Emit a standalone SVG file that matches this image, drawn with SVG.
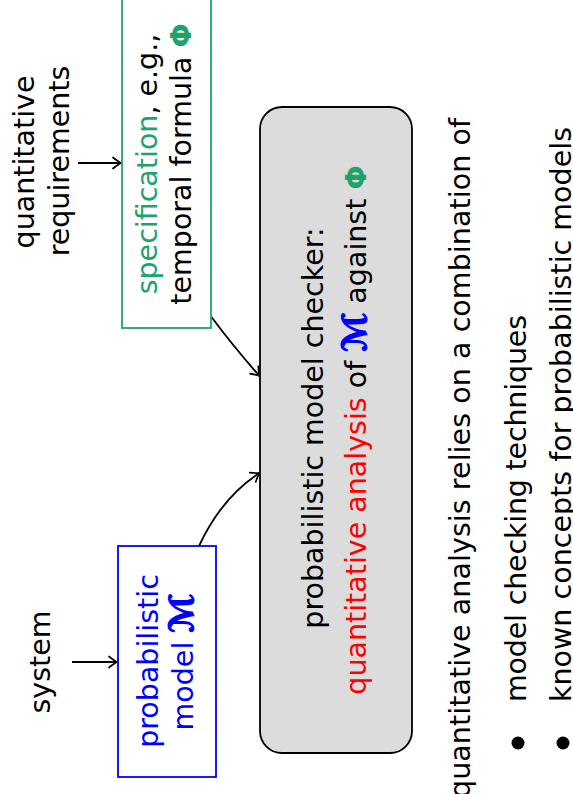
<svg xmlns="http://www.w3.org/2000/svg" width="573" height="794" viewBox="0 0 573 794">
<defs>
<style>
text { font-family: "DejaVu Sans", "Noto Sans", sans-serif; font-size: 28.5px; fill: #000; }
.green { fill: #1fa36b; }
.blue { fill: #0000ff; }
.red { fill: #ff0000; }
.phi { fill: #1fa36b; font-weight: bold; }
.calm { fill: #0000ff; stroke: #0000ff; stroke-width: 1.3; font-weight: bold; font-family: "DejaVu Sans", "Noto Sans", sans-serif; font-size: 33px; }
.conn { fill: none; stroke: #000; stroke-width: 1.8; }
</style>
<marker id="arr" viewBox="-10 -7 12 14" markerWidth="12" markerHeight="14" refX="0" refY="0" orient="auto" markerUnits="userSpaceOnUse">
<path d="M -8,-5.5 Q -2.5,-1.2 0,0 Q -2.5,1.2 -8,5.5" fill="none" stroke="#000" stroke-width="1.7" stroke-linecap="round"/>
</marker>
</defs>
<rect width="573" height="794" fill="#fff"/>

<g id="connectors">
<path class="conn" d="M 78,163 L 121,163" marker-end="url(#arr)"/>
<path class="conn" d="M 72,662 L 117,662" marker-end="url(#arr)"/>
<path class="conn" d="M 211.5,317 Q 233,346 259.5,376" marker-end="url(#arr)"/>
<path class="conn" d="M 199,546 Q 222,497 259.5,473" marker-end="url(#arr)"/>
</g>

<g id="req-label">
<text transform="translate(34,162) rotate(-90)" text-anchor="middle">quantitative</text>
<text transform="translate(69,161) rotate(-90)" text-anchor="middle">requirements</text>
</g>

<g id="system-label">
<text transform="translate(50,662) rotate(-90)" text-anchor="middle">system</text>
</g>

<g id="spec">
<rect x="122" y="-2" width="89" height="330" fill="#fff" stroke="#1fa36b" stroke-width="1.8"/>
<text transform="translate(157,164) rotate(-90)" text-anchor="middle"><tspan class="green">specification</tspan>, e.g.,</text>
<text transform="translate(191,164) rotate(-90)" text-anchor="middle">temporal formula <tspan class="phi">Φ</tspan></text>
</g>

<g id="model">
<rect x="118" y="546" width="98" height="231" fill="#fff" stroke="#0000ff" stroke-width="1.8"/>
<text class="blue" transform="translate(158,661) rotate(-90)" text-anchor="middle">probabilistic</text>
<text class="blue" transform="translate(193,662) rotate(-90)" text-anchor="middle">model <tspan class="calm">ℳ</tspan></text>
</g>

<g id="checker">
<rect x="260" y="107" width="152" height="646" rx="22" ry="22" fill="#dcdcdc" stroke="#000" stroke-width="1.8"/>
<text transform="translate(323,428) rotate(-90)" text-anchor="middle">probabilistic model checker:</text>
<text transform="translate(366,430) rotate(-90)" text-anchor="middle"><tspan class="red">quantitative analysis</tspan> of <tspan class="calm">ℳ</tspan> against <tspan class="phi">Φ</tspan></text>
</g>

<g id="summary">
<text transform="translate(470,118) rotate(-90)" text-anchor="end" textLength="680" lengthAdjust="spacing">quantitative analysis relies on a combination of</text>
<circle cx="518" cy="743" r="6.5" fill="#000"/>
<text transform="translate(526,702) rotate(-90)" textLength="387" lengthAdjust="spacing">model checking techniques</text>
<circle cx="563" cy="743" r="6.5" fill="#000"/>
<text transform="translate(571,702) rotate(-90)" textLength="575" lengthAdjust="spacing">known concepts for probabilistic models</text>
</g>
</svg>
